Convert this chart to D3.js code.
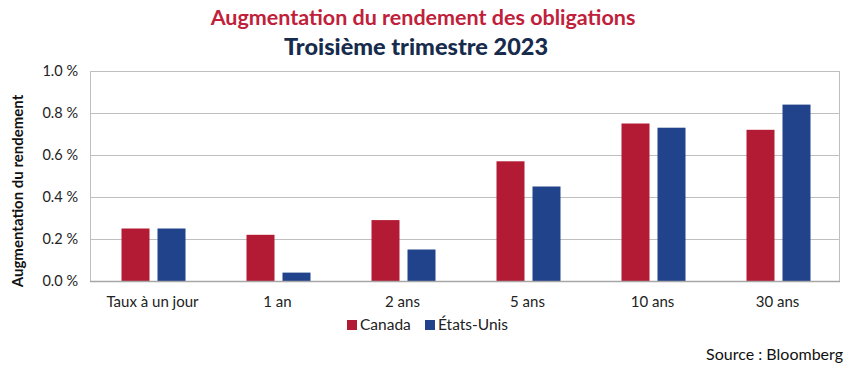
<!DOCTYPE html>
<html>
<head>
<meta charset="utf-8">
<script src="https://cdn.jsdelivr.net/npm/d3@7"></script>
<style>
  body { margin: 0; background: #fff; }
  text { font-family: Lato, "Open Sans", sans-serif; }
</style>
</head>
<body>
<script>
// data
var categories = ["Taux à un jour", "1 an", "2 ans", "5 ans", "10 ans", "30 ans"];
var seriesNames = ["Canada", "États-Unis"];
var canada = [0.25, 0.22, 0.29, 0.57, 0.75, 0.72];
var usa = [0.25, 0.04, 0.15, 0.45, 0.73, 0.84];
var yTicks = [0, 0.2, 0.4, 0.6, 0.8, 1.0];

var colors = ["#B31B34", "#21438C"];

var W = 854, H = 370;
var margin = {top: 71, right: 14, bottom: 89, left: 90};

var svg = d3.select("body").append("svg")
    .attr("width", W)
    .attr("height", H);

// titles
svg.append("text")
    .attr("x", 423).attr("y", 25)
    .attr("text-anchor", "middle")
    .style("font-size", "21.5px")
    .style("font-weight", "bold")
    .style("fill", "#C0203A")
    .text("Augmentation du rendement des obligations");

svg.append("text")
    .attr("x", 416).attr("y", 55)
    .attr("text-anchor", "middle")
    .style("font-size", "23.5px")
    .style("font-weight", "900")
    .style("fill", "#172B4D")
    .text("Troisième trimestre 2023");

var x0 = d3.scaleBand()
    .domain(categories)
    .range([margin.left, W - margin.right]);

var x1 = d3.scaleBand()
    .domain(seriesNames)
    .range([0, 64])
    .paddingInner(0.2222);

var y = d3.scaleLinear()
    .domain([0, 1])
    .range([H - margin.bottom, margin.top]);

// gridlines
svg.append("g")
    .selectAll("line")
    .data(yTicks)
  .enter().append("line")
    .attr("x1", margin.left)
    .attr("x2", W - margin.right)
    .attr("y1", function(d) { return y(d) + 0.5; })
    .attr("y2", function(d) { return y(d) + 0.5; })
    .style("stroke", "#BFBFBF")
    .style("stroke-width", 1);

// box sides
svg.append("line")
    .attr("x1", margin.left + 0.5).attr("x2", margin.left + 0.5)
    .attr("y1", y(1)).attr("y2", y(0))
    .style("stroke", "#BFBFBF");
svg.append("line")
    .attr("x1", W - margin.right - 0.5).attr("x2", W - margin.right - 0.5)
    .attr("y1", y(1)).attr("y2", y(0))
    .style("stroke", "#BFBFBF");

// y tick labels
svg.append("g")
    .selectAll("text")
    .data(yTicks)
  .enter().append("text")
    .attr("x", 78)
    .attr("y", function(d) { return y(d) + 5; })
    .attr("text-anchor", "end")
    .style("font-size", "14.5px")
    .style("fill", "#222")
    .text(function(d) { return d.toFixed(1) + " %"; });

// y axis title
svg.append("text")
    .attr("transform", "translate(23," + ((y(0) + y(1)) / 2 + 15) + ") rotate(-90)")
    .attr("text-anchor", "middle")
    .style("font-size", "15px")
    .style("font-weight", "bold")
    .style("fill", "#111")
    .text("Augmentation du rendement");

// bars
var rows = categories.map(function(c, i) {
  return {cat: c, vals: [canada[i], usa[i]]};
});

var g = svg.selectAll(".cat")
    .data(rows)
  .enter().append("g")
    .attr("class", "cat")
    .attr("transform", function(d) {
      return "translate(" + (x0(d.cat) + x0.bandwidth() / 2 - 31) + ",0)";
    });

g.selectAll("rect")
    .data(function(d) { return d.vals.map(function(v, j) { return {name: seriesNames[j], v: v, j: j}; }); })
  .enter().append("rect")
    .attr("x", function(d) { return x1(d.name); })
    .attr("width", x1.bandwidth())
    .attr("y", function(d) { return y(d.v); })
    .attr("height", function(d) { return y(0) - y(d.v); })
    .style("fill", function(d) { return colors[d.j]; });

// bottom axis line
svg.append("line")
    .attr("x1", margin.left).attr("x2", W - margin.right)
    .attr("y1", y(0) + 0.5).attr("y2", y(0) + 0.5)
    .style("stroke", "#A6A6A6")
    .style("stroke-width", 1.5);

// category labels
svg.append("g")
    .selectAll("text")
    .data(categories)
  .enter().append("text")
    .attr("x", function(d) { return x0(d) + x0.bandwidth() / 2; })
    .attr("y", 307)
    .attr("text-anchor", "middle")
    .style("font-size", "15px")
    .style("fill", "#222")
    .text(function(d) { return d; });

// legend
var legendX = [347, 425];
var lg = svg.selectAll(".legend")
    .data(seriesNames)
  .enter().append("g")
    .attr("class", "legend")
    .attr("transform", function(d, i) { return "translate(" + legendX[i] + ",320)"; });

lg.append("rect")
    .attr("width", 10).attr("height", 10)
    .style("fill", function(d, i) { return colors[i]; });

lg.append("text")
    .attr("x", 13).attr("y", 10)
    .style("font-size", "15.5px")
    .style("fill", "#222")
    .text(function(d) { return d; });

// source
svg.append("text")
    .attr("x", 843).attr("y", 360)
    .attr("text-anchor", "end")
    .style("font-size", "16px")
    .style("fill", "#111")
    .text("Source : Bloomberg");
</script>
</body>
</html>
